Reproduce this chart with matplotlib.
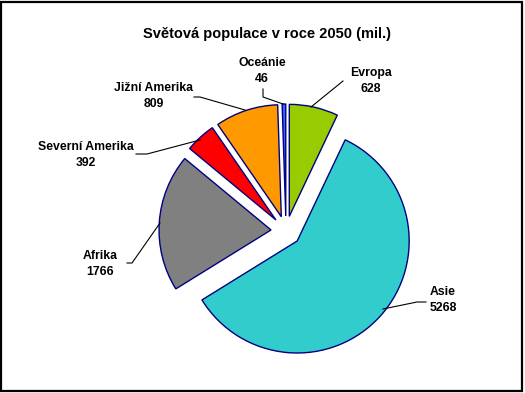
import matplotlib
matplotlib.use("Agg")
import matplotlib.pyplot as plt
from matplotlib.patches import Rectangle

# Data
regions = ["Evropa", "Asie", "Afrika", "Severní Amerika", "Jižní Amerika", "Oceánie"]
population = [628, 5268, 1766, 392, 809, 46]
colors = ["#99CC00", "#33CCCC", "#808080", "#FF0000", "#FF9900", "#3366FF"]
title = "Světová populace v roce 2050 (mil.)"

W, H = 525, 393
fig = plt.figure(figsize=(W / 100, H / 100), dpi=100)
ax = fig.add_axes([0, 0, 1, 1])
ax.set_xlim(0, W)
ax.set_ylim(0, H)
ax.set_aspect("equal")
ax.axis("off")

def Y(y):
    return H - y

cx, cy, r = 286, 231, 112
explode = [15] * len(population)  # matplotlib explode offset is in data units
ax.pie(population, colors=colors, startangle=90, counterclock=False,
       center=(cx, Y(cy)), radius=r, explode=explode,
       wedgeprops=dict(edgecolor="#000080", linewidth=1.0))
ax.set_xlim(0, W)
ax.set_ylim(0, H)

font = "Liberation Sans"
ax.text(267, Y(34), title, ha="center", va="center", fontsize=10.5,
        fontweight="bold", family=font)

# label positions (centres) and leader lines
label_pos = [(371, 81), (443, 300), (100, 264), (86, 155), (154, 96), (262, 71)]
leaders = [
    [(311, 107), (343, 81)],
    [(383, 309), (417, 302), (426, 302)],
    [(160, 223), (132, 263), (127, 263)],
    [(200, 140), (147, 154), (136, 154)],
    [(245, 110), (200, 97), (194, 97)],
    [(283, 104), (263, 97), (263, 89)],
]
for name, val, (lx, ly), pts in zip(regions, population, label_pos, leaders):
    ax.text(lx, Y(ly), f"{name}\n{val}", ha="center", va="center",
            fontsize=8.8, fontweight="bold", family=font, linespacing=1.45)
    xs = [p[0] for p in pts]
    ys = [Y(p[1]) for p in pts]
    ax.plot(xs, ys, color="black", linewidth=0.8)

fig.patches.append(Rectangle((0.002, 0.004), 0.993, 0.99, transform=fig.transFigure,
                             fill=False, edgecolor="black", linewidth=1.6))

fig.savefig("out.png", dpi=100)
